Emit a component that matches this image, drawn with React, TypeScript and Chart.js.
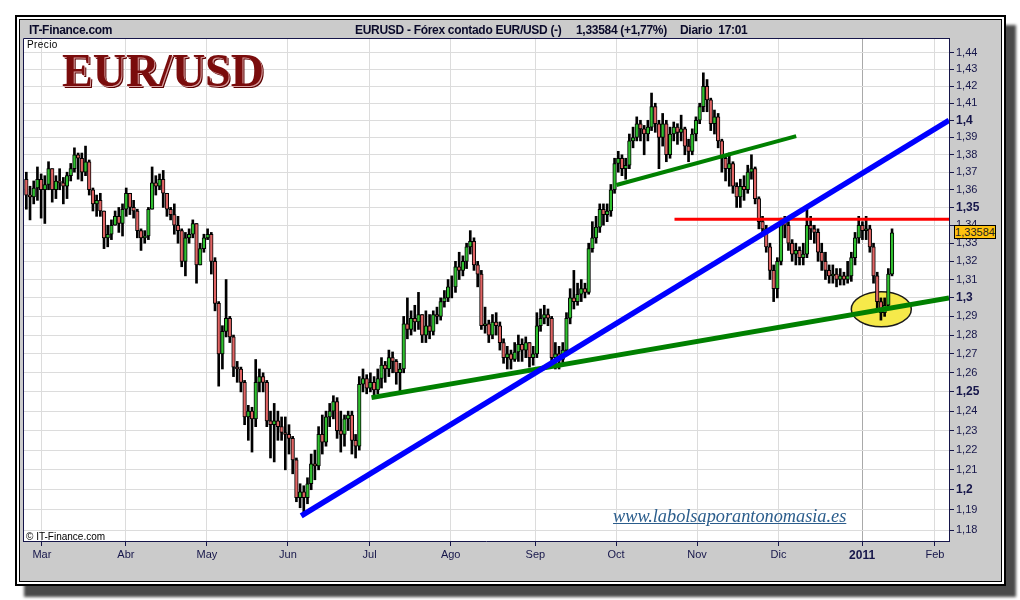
import React, { useEffect, useRef } from 'react';
import { Chart, registerables } from 'chart.js';

Chart.register(...registerables);

// ---- Data (daily EUR/USD candles) ----
const firstOpen = 1.366;
const closes = [
  1.357, 1.356, 1.361, 1.366, 1.360, 1.363, 1.372, 1.360, 1.365, 1.364,
  1.362, 1.368, 1.372, 1.380, 1.378, 1.370, 1.376, 1.360, 1.352, 1.354,
  1.348, 1.333, 1.335, 1.340, 1.345, 1.341, 1.349, 1.358, 1.350, 1.348,
  1.337, 1.333, 1.334, 1.349, 1.364, 1.362, 1.366, 1.358, 1.349, 1.346,
  1.340, 1.337, 1.320, 1.333, 1.335, 1.341, 1.318, 1.327, 1.333, 1.335,
  1.320, 1.297, 1.270, 1.282, 1.289, 1.279, 1.263, 1.262, 1.255, 1.237,
  1.240, 1.236, 1.255, 1.258, 1.255, 1.235, 1.233, 1.235, 1.232, 1.229,
  1.228, 1.226, 1.215, 1.196, 1.199, 1.196, 1.203, 1.213, 1.212, 1.228,
  1.224, 1.237, 1.240, 1.245, 1.230, 1.228, 1.236, 1.238, 1.225, 1.222,
  1.254, 1.257, 1.252, 1.255, 1.251, 1.257, 1.264, 1.262, 1.268, 1.266,
  1.260, 1.262, 1.286, 1.283, 1.289, 1.287, 1.291, 1.280, 1.285, 1.282,
  1.291, 1.290, 1.298, 1.300, 1.306, 1.306, 1.317, 1.315, 1.320, 1.328,
  1.331, 1.318, 1.313, 1.285, 1.286, 1.280, 1.287, 1.285, 1.276, 1.268,
  1.270, 1.267, 1.271, 1.275, 1.272, 1.276, 1.268, 1.270, 1.285, 1.289,
  1.291, 1.289, 1.268, 1.270, 1.267, 1.272, 1.289, 1.300, 1.298, 1.302,
  1.305, 1.303, 1.327, 1.333, 1.339, 1.349, 1.346, 1.348, 1.360, 1.375,
  1.378, 1.372, 1.374, 1.388, 1.390, 1.398, 1.395, 1.392, 1.396, 1.408,
  1.398, 1.390, 1.398, 1.380, 1.392, 1.396, 1.393, 1.395, 1.385, 1.382,
  1.392, 1.400, 1.408, 1.420, 1.412, 1.398, 1.402, 1.388, 1.378, 1.372,
  1.375, 1.362, 1.356, 1.362, 1.360, 1.370, 1.372, 1.355, 1.342, 1.338,
  1.328, 1.315, 1.305, 1.320, 1.342, 1.340, 1.330, 1.324, 1.326, 1.322,
  1.324, 1.340, 1.338, 1.336, 1.325, 1.320, 1.315, 1.312, 1.313, 1.310,
  1.312, 1.310, 1.312, 1.322, 1.333, 1.340, 1.337, 1.338, 1.328, 1.312,
  1.298, 1.292, 1.296, 1.313, 1.33584,
];
const highs = [
  1.370, 1.362, 1.365, 1.373, 1.369, 1.368, 1.376, 1.372, 1.368, 1.372,
  1.367, 1.370, 1.375, 1.384, 1.381, 1.381, 1.385, 1.377, 1.361, 1.357,
  1.358, 1.348, 1.340, 1.343, 1.348, 1.350, 1.352, 1.361, 1.358, 1.354,
  1.349, 1.338, 1.337, 1.350, 1.373, 1.368, 1.369, 1.371, 1.358, 1.350,
  1.352, 1.345, 1.338, 1.336, 1.338, 1.343, 1.341, 1.330, 1.335, 1.338,
  1.336, 1.322, 1.298, 1.285, 1.310, 1.290, 1.280, 1.266, 1.263, 1.256,
  1.243, 1.242, 1.267, 1.262, 1.260, 1.256, 1.240, 1.244, 1.240, 1.237,
  1.237, 1.233, 1.227, 1.216, 1.203, 1.202, 1.206, 1.218, 1.220, 1.232,
  1.238, 1.240, 1.244, 1.248, 1.247, 1.240, 1.238, 1.240, 1.240, 1.228,
  1.258, 1.262, 1.259, 1.260, 1.258, 1.262, 1.268, 1.266, 1.272, 1.271,
  1.267, 1.265, 1.290, 1.300, 1.293, 1.296, 1.303, 1.291, 1.293, 1.291,
  1.293, 1.295, 1.300, 1.304, 1.310, 1.312, 1.320, 1.325, 1.323, 1.330,
  1.337, 1.333, 1.320, 1.315, 1.295, 1.288, 1.291, 1.292, 1.287, 1.278,
  1.274, 1.272, 1.276, 1.280, 1.278, 1.279, 1.276, 1.274, 1.292, 1.294,
  1.296, 1.294, 1.290, 1.276, 1.274, 1.276, 1.292, 1.305, 1.315, 1.308,
  1.310, 1.308, 1.330, 1.342, 1.345, 1.352, 1.352, 1.352, 1.363, 1.378,
  1.382, 1.380, 1.378, 1.392, 1.396, 1.402, 1.400, 1.397, 1.400, 1.416,
  1.410, 1.400, 1.404, 1.400, 1.396, 1.399, 1.398, 1.403, 1.396, 1.389,
  1.395, 1.402, 1.410, 1.428, 1.424, 1.413, 1.406, 1.404, 1.389, 1.380,
  1.381, 1.376, 1.364, 1.366, 1.368, 1.374, 1.380, 1.373, 1.356, 1.345,
  1.340, 1.330, 1.318, 1.322, 1.344, 1.345, 1.342, 1.332, 1.330, 1.328,
  1.330, 1.351, 1.345, 1.340, 1.338, 1.330, 1.325, 1.318, 1.318, 1.316,
  1.316, 1.314, 1.320, 1.325, 1.336, 1.345, 1.342, 1.345, 1.340, 1.330,
  1.314, 1.300, 1.300, 1.316, 1.338,
];
const lows = [
  1.349, 1.343, 1.352, 1.354, 1.344, 1.341, 1.360, 1.353, 1.355, 1.360,
  1.352, 1.355, 1.365, 1.370, 1.366, 1.365, 1.368, 1.357, 1.348, 1.345,
  1.345, 1.327, 1.328, 1.332, 1.340, 1.336, 1.334, 1.345, 1.346, 1.344,
  1.333, 1.326, 1.330, 1.332, 1.349, 1.357, 1.360, 1.350, 1.345, 1.343,
  1.335, 1.330, 1.317, 1.312, 1.330, 1.333, 1.308, 1.318, 1.325, 1.332,
  1.313, 1.293, 1.253, 1.262, 1.279, 1.276, 1.258, 1.255, 1.250, 1.233,
  1.225, 1.219, 1.232, 1.250, 1.250, 1.232, 1.216, 1.214, 1.225, 1.225,
  1.210, 1.218, 1.208, 1.194, 1.191, 1.187, 1.193, 1.200, 1.205, 1.210,
  1.218, 1.222, 1.232, 1.236, 1.226, 1.219, 1.222, 1.230, 1.218, 1.216,
  1.220, 1.250, 1.249, 1.250, 1.247, 1.249, 1.252, 1.255, 1.258, 1.260,
  1.254, 1.250, 1.260, 1.278, 1.280, 1.282, 1.283, 1.276, 1.276, 1.278,
  1.280, 1.286, 1.288, 1.295, 1.298, 1.300, 1.303, 1.310, 1.312, 1.316,
  1.324, 1.315, 1.306, 1.283, 1.281, 1.276, 1.278, 1.280, 1.272, 1.265,
  1.262, 1.262, 1.266, 1.266, 1.266, 1.268, 1.263, 1.264, 1.268, 1.282,
  1.286, 1.285, 1.266, 1.262, 1.262, 1.264, 1.270, 1.286, 1.294, 1.296,
  1.298, 1.300, 1.302, 1.325, 1.330, 1.336, 1.340, 1.342, 1.345, 1.358,
  1.370, 1.368, 1.366, 1.372, 1.384, 1.388, 1.388, 1.380, 1.388, 1.394,
  1.393, 1.372, 1.385, 1.376, 1.378, 1.388, 1.386, 1.388, 1.380, 1.376,
  1.380, 1.388, 1.398, 1.405, 1.405, 1.394, 1.392, 1.384, 1.370, 1.365,
  1.362, 1.358, 1.350, 1.350, 1.354, 1.358, 1.366, 1.352, 1.338, 1.334,
  1.325, 1.310, 1.298, 1.300, 1.318, 1.333, 1.326, 1.320, 1.318, 1.318,
  1.318, 1.322, 1.332, 1.330, 1.320, 1.315, 1.310, 1.308, 1.308, 1.306,
  1.307, 1.307, 1.308, 1.309, 1.318, 1.330, 1.332, 1.332, 1.325, 1.308,
  1.294, 1.288, 1.290, 1.294, 1.312,
];

// x positions (trading-day index) of month ticks and their labels
const monthTicks = [4.2, 26.9, 48.8, 70.7, 92.8, 114.7, 137.6, 159.4, 181.3, 203.3, 225.9, 245.6];
const monthLabels = ['Mar', 'Abr', 'May', 'Jun', 'Jul', 'Ago', 'Sep', 'Oct', 'Nov', 'Dic', '2011', 'Feb'];

const priceTicks = [
  1.18, 1.19, 1.2, 1.21, 1.22, 1.23, 1.24, 1.25, 1.26, 1.27, 1.28, 1.29, 1.3,
  1.31, 1.32, 1.33, 1.34, 1.35, 1.36, 1.37, 1.38, 1.39, 1.4, 1.41, 1.42, 1.43, 1.44,
];
const majorPriceTicks = [1.2, 1.25, 1.3, 1.35, 1.4];

// drawn trend lines (index, price)
const blueLine = [{ x: 74.3, y: 1.187 }, { x: 249.4, y: 1.4 }];
const greenLowLine = [{ x: 93.3, y: 1.247 }, { x: 249.4, y: 1.3 }];
const greenHighLine = [{ x: 159.5, y: 1.3627 }, { x: 208.1, y: 1.3908 }];
const redLine = [{ x: 175.2, y: 1.3434 }, { x: 249.4, y: 1.3434 }];
const ellipseCenter = { x: 231.1, y: 1.2939 };

const xMin = -0.9;
const xMax = 249.4;
const yMin = 1.1746;
const yMax = 1.4489;

const NAVY = '#16164a';
const GREEN = '#2fc02f';
const RED = '#e06464';
const FONT = '"Liberation Sans", Arial, sans-serif';

const fmt = (v: number) => String(Math.round(v * 100) / 100).replace('.', ',');
const isMajor = (v: number) => majorPriceTicks.some((m) => Math.abs(m - v) < 1e-6);

const framePlugin = {
  id: 'framePlugin',
  beforeDraw(chart: any) {
    const { ctx, chartArea } = chart;
    const { left, top, right, bottom } = chartArea;
    ctx.save();
    ctx.fillStyle = '#ffffff';
    ctx.fillRect(left, top, right - left, bottom - top);
    ctx.restore();
  },
  beforeDatasetsDraw(chart: any) {
    const { ctx, scales } = chart;
    const cx = scales.x.getPixelForValue(ellipseCenter.x);
    const cy = scales.y.getPixelForValue(ellipseCenter.y);
    ctx.save();
    ctx.beginPath();
    ctx.ellipse(cx, cy, 30, 17.5, 0, 0, Math.PI * 2);
    ctx.fillStyle = '#f6e94a';
    ctx.fill();
    ctx.lineWidth = 1.5;
    ctx.strokeStyle = '#1a1a1a';
    ctx.stroke();
    ctx.restore();
  },
  afterDraw(chart: any) {
    const { ctx, chartArea } = chart;
    const { left, top, right, bottom } = chartArea;
    ctx.save();
    ctx.strokeStyle = NAVY;
    ctx.lineWidth = 1;
    ctx.beginPath();
    ctx.moveTo(left + 0.5, bottom);
    ctx.lineTo(left + 0.5, top + 0.5);
    ctx.lineTo(right, top + 0.5);
    ctx.stroke();
    ctx.restore();
  },
};

export default function App() {
  const ref = useRef<HTMLCanvasElement>(null);

  useEffect(() => {
    const opens = closes.map((c, i) => (i === 0 ? firstOpen : closes[i - 1]));
    const wicks = closes.map((c, i) => ({ x: i, y: [lows[i], highs[i]] }));
    const bodies = closes.map((c, i) => ({ x: i, y: [opens[i], c] }));
    const bodyColors = closes.map((c, i) => (c >= opens[i] ? GREEN : RED));

    const lineDs = (data: any[], color: string, width: number) => ({
      type: 'line' as const,
      data,
      borderColor: color,
      borderWidth: width,
      pointRadius: 0,
      fill: false,
      order: 1,
    });

    const chart = new Chart(ref.current!, {
      type: 'bar',
      data: {
        datasets: [
          lineDs(blueLine, '#0000ff', 5.5),
          lineDs(greenLowLine, '#008000', 5),
          lineDs(greenHighLine, '#008000', 4),
          lineDs(redLine, '#ff0000', 3),
          {
            type: 'bar',
            data: bodies as any,
            backgroundColor: bodyColors,
            borderColor: '#000000',
            borderWidth: 1,
            borderSkipped: false,
            barThickness: 3.6,
            grouped: false,
            order: 2,
          } as any,
          {
            type: 'bar',
            data: wicks as any,
            backgroundColor: '#000000',
            barThickness: 2,
            grouped: false,
            order: 3,
          } as any,
        ],
      },
      options: {
        animation: false,
        responsive: false,
        maintainAspectRatio: false,
        layout: { padding: { left: 23, top: 38, right: 11, bottom: 29 } },
        plugins: { legend: { display: false }, tooltip: { enabled: false } },
        scales: {
          x: {
            type: 'linear',
            min: xMin,
            max: xMax,
            offset: false,
            position: 'bottom',
            afterBuildTicks: (s: any) => {
              s.ticks = monthTicks.map((v) => ({ value: v }));
            },
            afterFit: (s: any) => {
              s.height = 30;
            },
            ticks: {
              autoSkip: false,
              maxRotation: 0,
              padding: 2,
              color: NAVY,
              font: (c: any) =>
                c.index === 10
                  ? { family: FONT, size: 12, weight: 'bold' }
                  : { family: FONT, size: 11, weight: 'normal' },
              callback: (_v: any, i: number) => monthLabels[i],
            },
            grid: {
              color: (c: any) => (c.index === 10 ? '#a9a9a9' : '#dcdcdc'),
              tickColor: NAVY,
              tickLength: 5,
              offset: false,
            },
            border: { color: NAVY, width: 1 },
          } as any,
          y: {
            type: 'logarithmic',
            position: 'right',
            min: yMin,
            max: yMax,
            afterBuildTicks: (s: any) => {
              s.ticks = priceTicks.map((v) => ({ value: v }));
            },
            afterFit: (s: any) => {
              s.width = 60;
            },
            ticks: {
              autoSkip: false,
              padding: 2,
              color: NAVY,
              font: (c: any) =>
                c.tick && isMajor(c.tick.value)
                  ? { family: FONT, size: 12, weight: 'bold' }
                  : { family: FONT, size: 11, weight: 'normal' },
              callback: (v: any) => fmt(Number(v)),
            },
            grid: { color: '#dcdcdc', tickColor: NAVY, tickLength: 5 },
            border: { color: NAVY, width: 1 },
          } as any,
        },
      },
      plugins: [framePlugin],
    });
    return () => chart.destroy();
  }, []);

  const abs = (o: React.CSSProperties): React.CSSProperties => ({ position: 'absolute', ...o });
  const titleStyle = (left: number): React.CSSProperties =>
    abs({
      left,
      top: 23,
      fontFamily: FONT,
      fontSize: 12,
      fontWeight: 'bold',
      lineHeight: '14px',
      color: '#0a0a2a',
      whiteSpace: 'pre',
      letterSpacing: -0.3,
    });

  return (
    <div style={abs({ left: 0, top: 0, width: 1020, height: 600, background: '#ffffff', overflow: 'hidden' })}>
      <div style={abs({ left: 24, top: 25, width: 992, height: 572, background: '#4a4a4a', filter: 'blur(1.5px)' })} />
      <div
        style={abs({
          left: 15,
          top: 15,
          width: 991,
          height: 571,
          border: '2px solid #000',
          background: '#ffffff',
          boxSizing: 'border-box',
        })}
      />
      <div
        style={abs({
          left: 19,
          top: 19,
          width: 983,
          height: 563,
          border: '1px solid #000',
          background: '#cbcbcb',
          boxSizing: 'border-box',
        })}
      />
      <canvas ref={ref} width={1020} height={600} style={abs({ left: 0, top: 0, width: 1020, height: 600 })} />

      <div style={titleStyle(29)}>IT-Finance.com</div>
      <div style={titleStyle(355)}>EURUSD - Fórex contado EUR/USD (-)</div>
      <div style={titleStyle(576)}>1,33584 (+1,77%)</div>
      <div style={titleStyle(680)}>{'Diario  17:01'}</div>

      <div style={abs({ left: 27, top: 39, fontFamily: FONT, fontSize: 10, lineHeight: '12px', color: '#000', letterSpacing: 0.4 })}>
        Precio
      </div>

      <div
        style={abs({
          left: 62,
          top: 48,
          fontFamily: '"Liberation Serif", "DejaVu Serif", serif',
          fontSize: 46,
          fontWeight: 'bold',
          lineHeight: '46px',
          color: '#7a0c0c',
          textShadow: '1px 1px 0 #d8a0a0, 2px 2px 0 #5a0000',
          whiteSpace: 'pre',
        })}
      >
        EUR/USD
      </div>

      <div
        style={abs({
          left: 613,
          top: 507,
          fontFamily: '"Liberation Serif", "DejaVu Serif", serif',
          fontStyle: 'italic',
          fontSize: 18.3,
          lineHeight: '18px',
          color: '#2b5d8c',
          textDecoration: 'underline',
          whiteSpace: 'pre',
        })}
      >
        www.labolsaporantonomasia.es
      </div>

      <div style={abs({ left: 26, top: 531, fontFamily: FONT, fontSize: 10, lineHeight: '12px', color: '#000', whiteSpace: 'pre' })}>
        © IT-Finance.com
      </div>

      <div
        style={abs({
          left: 954,
          top: 225,
          width: 42,
          height: 14,
          boxSizing: 'border-box',
          border: '1px solid #000',
          background: '#ffc20e',
          fontFamily: FONT,
          fontSize: 11,
          lineHeight: '12px',
          color: '#222',
          textAlign: 'center',
          whiteSpace: 'pre',
        })}
      >
        1,33584
      </div>
    </div>
  );
}
